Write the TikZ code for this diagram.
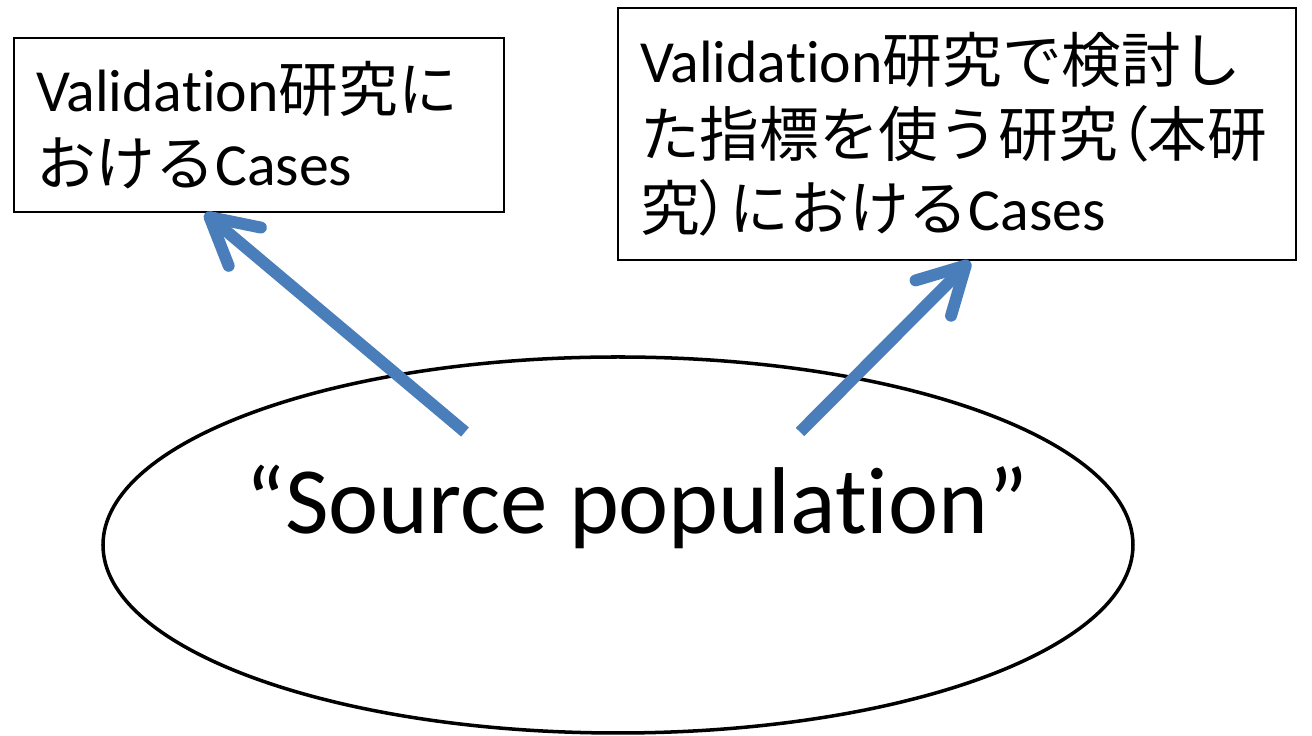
\documentclass[tikz,border=0pt]{standalone}
\usepackage{fontspec}
\setmainfont{Carlito}[Ligatures=NoCommon]
\newfontfamily\jp{Noto Sans CJK JP}
\newfontfamily\jpnarrow{Noto Sans CJK JP}[RawFeature=+palt]
\usetikzlibrary{shapes.geometric,arrows.meta}
\definecolor{arrowblue}{HTML}{4A7EBB}
\begin{document}
\begin{tikzpicture}[
                casebox/.style={draw, line width=0.7pt, align=left, inner xsep=0.22cm, inner ysep=0pt,
                    font=\fontsize{17}{21}\selectfont},
                popring/.style={draw, ellipse, line width=1pt, minimum width=10.3cm, minimum height=3.76cm},
                pick/.style={arrowblue, line width=3.4pt, -{Straight Barb[length=0.46cm, width=0.5cm, round]}}
            ]
            \useasboundingbox (0,0) rectangle (13.12,7.36);
            \node[casebox, minimum height=1.74cm, text width=4.46cm] (valcases) at (2.59,6.11)
                {Validation{\jp 研究に}\\{\jp おける}Cases};
            \node[casebox, minimum height=2.52cm, text width=6.34cm] (studycases) at (9.57,6.02)
                {Validation{\jp 研究で検討し}\\{\jp た指標を使う研究}{\jpnarrow （}{\jp 本研}\\{\jp 究}{\jpnarrow ）}{\jp における}Cases};
            \node[popring] (srcpop) at (6.18,1.91) {};
            \node[font=\fontsize{27}{32}\selectfont] (srclabel) at (6.37,2.29) {“Source population”};
            \coordinate (leftfoot) at (4.65,3.04);
            \coordinate (rightfoot) at (8.00,3.04);
            \draw[pick] (leftfoot) -- ([xshift=-0.54cm]valcases.south);
            \draw[pick] (rightfoot) -- ([xshift=0.13cm]studycases.south);
        \end{tikzpicture}
\end{document}
